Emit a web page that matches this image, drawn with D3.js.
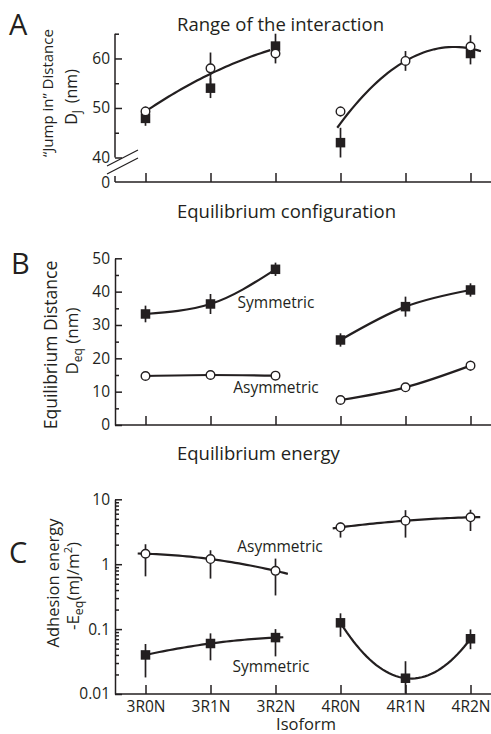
<!DOCTYPE html>
<html lang="en">
<head>
<meta charset="UTF-8">
<title>Tau isoforms - interaction range, equilibrium distance and energy</title>
<style>
  body { margin: 0; background: #fff; }
  svg { display: block; font-family: "Open Sans", sans-serif; }
</style>
</head>
<body>
<script src="https://cdn.jsdelivr.net/npm/d3@7"></script>
<script>
// ---- data ----
const isoforms = ["3R0N", "3R1N", "3R2N", "4R0N", "4R1N", "4R2N"];

// A: "jump in" distance (nm)
const jumpSquare = [47.9, 54.0, 62.5, 43.0, null, 61.0];
const jumpSquareErr = [1.5, 2.0, 2.5, 3.0, null, 2.2];
const jumpCircle = [49.3, 58.0, 61.0, 49.3, 59.5, 62.4];
const jumpCircleErr = [1.0, 3.2, 2.0, 1.0, 2.0, 2.3];
const jumpFit3R = [49.3, 56.9, 62.0];
const jumpFit4R = [46.9, 59.5, 62.0];
const jumpTicks = [40, 50, 60];
const jumpMinor = [45, 55, 65];

// B: equilibrium distance (nm)
const eqSym = [33.3, 36.3, 46.7, 25.5, 35.5, 40.5];
const eqSymErr = [2.5, 3.0, 2.0, 2.0, 3.0, 2.0];
const eqAsym = [14.7, 15.0, 14.8, 7.5, 11.3, 17.8];
const eqAsymErr = [1.2, 1.3, 1.2, 1.2, 1.0, 1.5];
const eqTicks = [0, 10, 20, 30, 40, 50];
const eqMinor = [5, 15, 25, 35, 45];

// C: adhesion energy (mJ/m2), log scale
const enAsym = [1.45, 1.2, 0.79, 3.7, 4.68, 5.28];
const enAsymLo = [0.65, 0.60, 0.33, 2.57, 2.57, 3.25];
const enAsymHi = [2.03, 1.64, 1.22, 4.4, 6.8, 6.9];
const enSym = [0.040, 0.060, 0.074, 0.125, 0.0175, 0.071];
const enSymLo = [0.018, 0.033, 0.038, 0.076, 0.0102, 0.049];
const enSymHi = [0.059, 0.086, 0.10, 0.175, 0.032, 0.099];
const enTicks = [0.01, 0.1, 1, 10];
const enTickLabels = ["0.01", "0.1", "1", "10"];

// ---- layout ----
const width = 491, height = 734;
const axisX0 = 115, axisX1 = 491;
const ink = '#231f20';

const svg = d3.select('body').append('svg')
    .attr('width', width).attr('height', height);

const x = d3.scalePoint().domain(isoforms).range([145.5, 470.5]);
const xi = d3.scaleLinear().domain([0, isoforms.length - 1]).range(x.range());

const yA = d3.scaleLinear().domain([40, 65]).range([157.5, 33.7]);
const yB = d3.scaleLinear().domain([0, 50]).range([425, 258.3]);
const yC = d3.scaleLog().domain([0.01, 10]).range([694, 499.3]);

function tidy(g) {
    g.attr('font-family', null).attr('font-size', 15.5);
    g.selectAll('line, path').attr('stroke', ink).attr('stroke-width', 1.5);
    g.selectAll('text').attr('fill', ink);
}

function yAxis(scale, major, minor, fmt) {
    const g = svg.append('g').attr('transform', `translate(${axisX0},0)`);
    g.call(d3.axisLeft(scale).tickValues(major).tickFormat(fmt)
        .tickSizeInner(-7).tickSizeOuter(0).tickPadding(5));
    g.append('g')
        .call(d3.axisLeft(scale).tickValues(minor).tickFormat('').tickSize(-4))
        .select('.domain').remove();
    tidy(g);
    return g;
}

function xAxis(y0, withLabels) {
    svg.append('line')
        .attr('x1', axisX0).attr('x2', axisX1).attr('y1', y0).attr('y2', y0)
        .attr('stroke', ink).attr('stroke-width', 1.5);
    const g = svg.append('g').attr('transform', `translate(0,${y0})`)
        .call(d3.axisBottom(x).tickSizeInner(-9).tickSizeOuter(0).tickPadding(7)
            .tickFormat(withLabels ? d => d : ''));
    g.select('.domain').remove();
    tidy(g);
}

function errorBars(scale, vals, lo, hi) {
    const pts = isoforms.map((d, i) => ({ d, v: vals[i], lo: lo[i], hi: hi[i] }))
        .filter(p => p.v != null);
    svg.append('g').selectAll('line').data(pts).join('line')
        .attr('x1', p => x(p.d)).attr('x2', p => x(p.d))
        .attr('y1', p => scale(p.lo)).attr('y2', p => scale(p.hi))
        .attr('stroke', ink).attr('stroke-width', 1.7);
}

function symErr(vals, err) {
    return [vals.map((v, i) => v == null ? null : v - err[i]),
            vals.map((v, i) => v == null ? null : v + err[i])];
}

function squares(scale, vals) {
    const s = 9.5;
    svg.append('g').selectAll('rect')
        .data(isoforms.map((d, i) => ({ d, v: vals[i] })).filter(p => p.v != null))
        .join('rect')
        .attr('x', p => x(p.d) - s / 2).attr('y', p => scale(p.v) - s / 2)
        .attr('width', s).attr('height', s).attr('fill', ink);
}

function circles(scale, vals) {
    svg.append('g').selectAll('circle')
        .data(isoforms.map((d, i) => ({ d, v: vals[i] })).filter(p => p.v != null))
        .join('circle')
        .attr('cx', p => x(p.d)).attr('cy', p => scale(p.v)).attr('r', 4.3)
        .attr('fill', '#fff').attr('stroke', ink).attr('stroke-width', 1.4);
}

// smooth quadratic fit through three values, drawn from t0 to t1 (isoform steps)
function fitCurve(scale, vals, i0, t0, t1, log) {
    const f = log ? vals.map(Math.log10) : vals;
    const a = (f[0] - 2 * f[1] + f[2]) / 2, b = f[1] - f[0] - a;
    const pts = d3.range(0, 41).map(k => {
        const t = t0 + (t1 - t0) * k / 40;
        const v = f[0] + b * t + a * t * t;
        return [xi(i0 + t), scale(log ? Math.pow(10, v) : v)];
    });
    svg.append('path').attr('d', d3.line()(pts))
        .attr('fill', 'none').attr('stroke', ink).attr('stroke-width', 2.2);
}

function joinCurve(scale, vals, i0) {
    const pts = vals.slice(i0, i0 + 3).map((v, k) => [xi(i0 + k), scale(v)]);
    svg.append('path').attr('d', d3.line().curve(d3.curveMonotoneX)(pts))
        .attr('fill', 'none').attr('stroke', ink).attr('stroke-width', 2.2);
}

function label(txt, x0, y0, size, anchor) {
    return svg.append('text').attr('x', x0).attr('y', y0)
        .attr('font-size', size).attr('text-anchor', anchor || 'start')
        .attr('fill', ink).text(txt);
}

function vLabel(cx, cy, size) {
    return svg.append('text')
        .attr('transform', `translate(${cx},${cy}) rotate(-90)`)
        .attr('text-anchor', 'middle').attr('font-size', size).attr('fill', ink);
}

// ---- panel A ----
label('A', 9, 35, 29);
label('Range of the interaction', 177, 31, 18.5);

yAxis(yA, jumpTicks, jumpMinor, d3.format('d')).select('.domain').remove();
svg.append('line').attr('x1', axisX0).attr('x2', axisX0)
    .attr('y1', yA(65)).attr('y2', yA(40))
    .attr('stroke', ink).attr('stroke-width', 1.5);
// axis break and the stub down to zero
svg.append('line').attr('x1', axisX0).attr('x2', axisX0).attr('y1', 176).attr('y2', 182)
    .attr('stroke', ink).attr('stroke-width', 1.5);
[0, 8].forEach(dy => svg.append('line')
    .attr('x1', 107).attr('y1', 166 + dy).attr('x2', 138).attr('y2', 150 + dy)
    .attr('stroke', ink).attr('stroke-width', 1.2));
label('0', 110, 187.5, 15.5, 'end');
xAxis(182, false);

let e = symErr(jumpSquare, jumpSquareErr);
errorBars(yA, jumpSquare, e[0], e[1]);
e = symErr(jumpCircle, jumpCircleErr);
errorBars(yA, jumpCircle, e[0], e[1]);
fitCurve(yA, jumpFit3R, 0, -0.04, 1.92, false);
fitCurve(yA, jumpFit4R, 3, -0.05, 2.16, false);
squares(yA, jumpSquare);
circles(yA, jumpCircle);

const aL1 = vLabel(53, 93, 15);
aL1.text('\u201CJump in\u201D Distance');
const aL2 = vLabel(77, 97, 16);
aL2.append('tspan').text('D');
aL2.append('tspan').attr('font-size', 12).attr('dy', 4).text('J');
aL2.append('tspan').attr('dy', -4).text('\u2009 (nm)');

// ---- panel B ----
label('B', 11, 274, 29);
label('Equilibrium configuration', 177, 218, 18.5);

yAxis(yB, eqTicks, eqMinor, d3.format('d'));
xAxis(425, false);

e = symErr(eqSym, eqSymErr);
errorBars(yB, eqSym, e[0], e[1]);
e = symErr(eqAsym, eqAsymErr);
errorBars(yB, eqAsym, e[0], e[1]);
joinCurve(yB, eqSym, 0);
joinCurve(yB, eqSym, 3);
joinCurve(yB, eqAsym, 0);
joinCurve(yB, eqAsym, 3);
squares(yB, eqSym);
circles(yB, eqAsym);
label('Symmetric', 276, 308, 15.5, 'middle');
label('Asymmetric', 276, 393, 15.5, 'middle');

const bL1 = vLabel(57, 345, 17.5);
bL1.text('Equilibrium Distance');
const bL2 = vLabel(78, 341, 17);
bL2.append('tspan').text('D');
bL2.append('tspan').attr('font-size', 12).attr('dy', 4).text('eq');
bL2.append('tspan').attr('dy', -4).text(' (nm)');

// ---- panel C ----
label('C', 9, 563, 29);
label('Equilibrium energy', 177, 460, 18.5);

const minorC = [];
enTicks.slice(0, -1).forEach(t => d3.range(2, 10).forEach(k => minorC.push(t * k)));
yAxis(yC, enTicks, minorC, (d, i) => enTickLabels[i]);
xAxis(694, true);

errorBars(yC, enAsym, enAsymLo, enAsymHi);
errorBars(yC, enSym, enSymLo, enSymHi);
fitCurve(yC, enAsym.slice(0, 3), 0, -0.12, 2.19, true);
fitCurve(yC, enAsym.slice(3), 3, -0.12, 2.15, true);
fitCurve(yC, enSym.slice(0, 3), 0, -0.06, 2.12, true);
fitCurve(yC, enSym.slice(3), 3, 0, 2, true);
squares(yC, enSym);
circles(yC, enAsym);
label('Asymmetric', 280, 552, 15.5, 'middle');
label('Symmetric', 271, 672, 15.5, 'middle');

const cL1 = vLabel(59, 583, 16.5);
cL1.text('Adhesion energy');
const cL2 = vLabel(79, 586, 17);
cL2.append('tspan').text('-E');
cL2.append('tspan').attr('font-size', 12.5).attr('dy', 4).text('eq');
cL2.append('tspan').attr('dy', -4).text('(mJ/m');
cL2.append('tspan').attr('font-size', 11).attr('dy', -7).text('2');
cL2.append('tspan').attr('dy', 7).text(')');

label('Isoform', 306, 729.5, 16.5, 'middle');
</script>
</body>
</html>
